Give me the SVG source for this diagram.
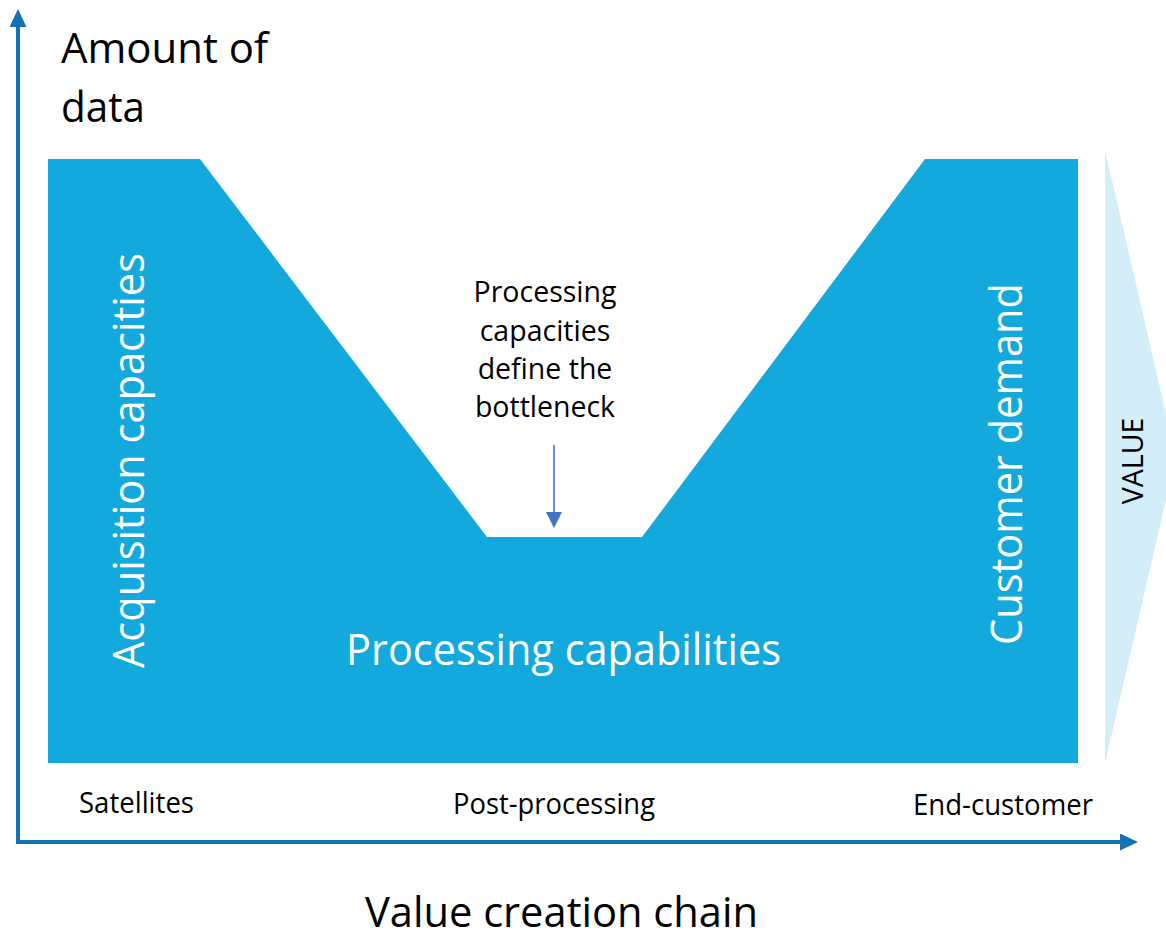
<svg xmlns="http://www.w3.org/2000/svg" width="1166" height="937" viewBox="0 0 1166 937">
  <style>
    text { font-family: "Open Sans", "Noto Sans", "Liberation Sans", sans-serif; }
    .big { font-size: 42px; fill: #000; }
    .band { font-size: 43px; fill: #ffffff; }
    .small { font-size: 28.5px; fill: #000; }
    .note { font-size: 28.5px; fill: #000; text-anchor: middle; }
    .axis { fill: none; stroke: #1272B5; stroke-width: 4; stroke-linejoin: miter; }
    .pointer { fill: none; stroke: #4472C4; stroke-width: 1.6; }
  </style>
  <defs>
    <marker id="axisHead" markerUnits="userSpaceOnUse" markerWidth="20" markerHeight="18" refX="0" refY="8.5" orient="auto-start-reverse">
      <path d="M0,0 L18,8.5 L0,17 Z" fill="#1272B5"/>
    </marker>
    <marker id="pointerHead" markerUnits="userSpaceOnUse" markerWidth="18" markerHeight="18" refX="0" refY="8" orient="auto">
      <path d="M0,0 L16,8 L0,16 Z" fill="#4472C4"/>
    </marker>
  </defs>

  <rect width="1166" height="937" fill="#ffffff"/>

  <!-- value chevron on the right -->
  <g id="value">
    <polygon points="1105,150 1176,457 1105,763" fill="#D3EEF9"/>
    <text class="small" font-size="28" text-anchor="middle" transform="translate(1143,461) rotate(-90)">VALUE</text>
  </g>

  <!-- data volume funnel -->
  <g id="funnel">
    <polygon points="48,159 200,159 487,537 642,537 925,159 1078,159 1078,763 48,763" fill="#14A9DC"/>
  </g>

  <g id="acquisition">
    <text class="band" text-anchor="middle" textLength="415" lengthAdjust="spacingAndGlyphs" transform="translate(144,460.5) rotate(-90)">Acquisition capacities</text>
  </g>

  <g id="customer-demand">
    <text class="band" text-anchor="middle" textLength="362" lengthAdjust="spacingAndGlyphs" transform="translate(1022,464) rotate(-90)">Customer demand</text>
  </g>

  <g id="processing-capabilities">
    <text class="band" x="346" y="665" textLength="435" lengthAdjust="spacingAndGlyphs">Processing capabilities</text>
  </g>

  <g id="bottleneck-note">
    <text class="note" x="545" y="302">Processing</text>
    <text class="note" x="545" y="340.5">capacities</text>
    <text class="note" x="545" y="379">define the</text>
    <text class="note" x="545" y="417">bottleneck</text>
  </g>

  <!-- axes and pointer -->
  <g id="connectors">
    <path class="axis" d="M18,27 V842 H1120" marker-start="url(#axisHead)" marker-end="url(#axisHead)"/>
    <path class="pointer" d="M554,445 V512" marker-end="url(#pointerHead)"/>
  </g>

  <g id="y-axis-label">
    <text class="big" x="61" y="63" textLength="207" lengthAdjust="spacingAndGlyphs">Amount of</text>
    <text class="big" x="61" y="122" textLength="84" lengthAdjust="spacingAndGlyphs">data</text>
  </g>

  <g id="x-axis-label">
    <text class="big" x="365" y="927" textLength="393" lengthAdjust="spacingAndGlyphs">Value creation chain</text>
  </g>

  <g id="stage-satellites">
    <text class="small" x="79" y="813" textLength="115" lengthAdjust="spacingAndGlyphs">Satellites</text>
  </g>
  <g id="stage-post-processing">
    <text class="small" x="453" y="814" textLength="202" lengthAdjust="spacingAndGlyphs">Post-processing</text>
  </g>
  <g id="stage-end-customer">
    <text class="small" x="913" y="815" textLength="180" lengthAdjust="spacingAndGlyphs">End-customer</text>
  </g>
</svg>
